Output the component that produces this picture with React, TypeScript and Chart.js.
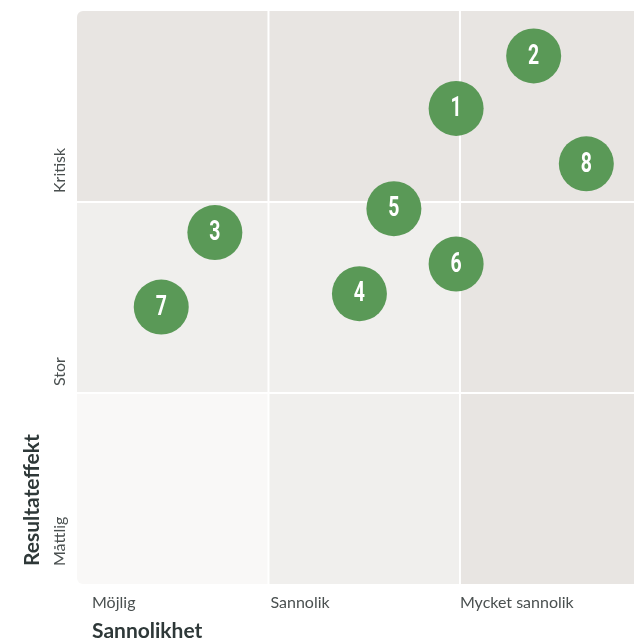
import { useEffect, useRef } from "react";
import { Chart, registerables } from "chart.js";

Chart.register(...registerables);

// Categories
const likelihoodLabels = ["Möjlig", "Sannolik", "Mycket sannolik"];
const impactLabels = ["Måttlig", "Stor", "Kritisk"];
const axisTitleX = "Sannolikhet";
const axisTitleY = "Resultateffekt";

// Risks
const riskIds = ["1", "2", "3", "4", "5", "6", "7", "8"];
const likelihoodValues = [1.98, 2.385, 0.72, 1.475, 1.655, 1.98, 0.44, 2.66];
const impactValues = [2.49, 2.765, 1.84, 1.52, 1.965, 1.675, 1.45, 2.2];

const CELL_LIGHTEST = "#f9f8f7";
const CELL_LIGHT = "#f0efed";
const CELL_DARK = "#e8e5e2";
const cellShade = (row: number, col: number) => {
  if (row === 0 && col === 0) return CELL_LIGHTEST;
  if (col < 2 && row < 2) return CELL_LIGHT;
  return CELL_DARK;
};

const matrixPlugin = {
  id: "matrix",
  beforeDatasetsDraw(chart: any) {
    const { ctx, chartArea } = chart;
    const xs = chart.scales.x;
    const ys = chart.scales.y;
    ctx.save();
    ctx.beginPath();
    const w = chartArea.right - chartArea.left;
    const h = chartArea.bottom - chartArea.top;
    if (ctx.roundRect) ctx.roundRect(chartArea.left, chartArea.top, w, h, [6, 0, 0, 6]);
    else ctx.rect(chartArea.left, chartArea.top, w, h);
    ctx.clip();
    for (let r = 0; r < impactLabels.length; r++) {
      for (let c = 0; c < likelihoodLabels.length; c++) {
        const x0 = xs.getPixelForValue(c);
        const x1 = xs.getPixelForValue(c + 1);
        const y0 = ys.getPixelForValue(r + 1);
        const y1 = ys.getPixelForValue(r);
        ctx.fillStyle = cellShade(r, c);
        ctx.fillRect(x0, y0, x1 - x0, y1 - y0);
      }
    }
    ctx.strokeStyle = "#ffffff";
    ctx.lineWidth = 2;
    for (let i = 1; i < likelihoodLabels.length; i++) {
      const x = xs.getPixelForValue(i);
      ctx.beginPath();
      ctx.moveTo(x, chartArea.top);
      ctx.lineTo(x, chartArea.bottom);
      ctx.stroke();
    }
    for (let i = 1; i < impactLabels.length; i++) {
      const y = ys.getPixelForValue(i);
      ctx.beginPath();
      ctx.moveTo(chartArea.left, y);
      ctx.lineTo(chartArea.right, y);
      ctx.stroke();
    }
    ctx.restore();
  },
  afterDatasetsDraw(chart: any) {
    const { ctx } = chart;
    const meta = chart.getDatasetMeta(0);
    ctx.save();
    ctx.fillStyle = "#ffffff";
    ctx.font = "bold 27px Roboto, sans-serif";
    ctx.textAlign = "center";
    ctx.textBaseline = "middle";
    meta.data.forEach((el: any, i: number) => {
      ctx.save();
      ctx.translate(el.x, el.y + 1);
      ctx.scale(0.72, 1);
      ctx.fillText(riskIds[i], 0, 0);
      ctx.restore();
    });
    ctx.restore();
  },
  afterDraw(chart: any) {
    const { ctx, chartArea } = chart;
    const xs = chart.scales.x;
    const ys = chart.scales.y;
    ctx.save();
    // x category labels
    ctx.fillStyle = "#4a5050";
    ctx.font = "16px Lato, sans-serif";
    ctx.textBaseline = "middle";
    ctx.textAlign = "left";
    const xOffsets = [15, 2, 0];
    likelihoodLabels.forEach((lab, i) => {
      ctx.fillText(lab, xs.getPixelForValue(i) + xOffsets[i], chartArea.bottom + 19);
    });
    // y category labels (rotated)
    const yOffsets = [18, 7, 9];
    impactLabels.forEach((lab, i) => {
      ctx.save();
      ctx.translate(chartArea.left - 17, ys.getPixelForValue(i) - yOffsets[i]);
      ctx.rotate(-Math.PI / 2);
      ctx.textAlign = "left";
      ctx.textBaseline = "middle";
      ctx.fillText(lab, 0, 0);
      ctx.restore();
    });
    // titles
    ctx.fillStyle = "#2e3838";
    ctx.font = "bold 21px Lato, sans-serif";
    ctx.textAlign = "left";
    ctx.textBaseline = "middle";
    ctx.fillText(axisTitleX, chartArea.left + 15, chartArea.bottom + 47);
    ctx.save();
    ctx.translate(chartArea.left - 45, ys.getPixelForValue(0) - 18);
    ctx.rotate(-Math.PI / 2);
    ctx.fillText(axisTitleY, 0, 0);
    ctx.restore();
    ctx.restore();
  },
};

export default function App() {
  const canvasRef = useRef<HTMLCanvasElement | null>(null);

  useEffect(() => {
    document.body.style.margin = "0";
    const canvas = canvasRef.current;
    if (!canvas) return;
    const chart = new Chart(canvas, {
      type: "scatter",
      data: {
        datasets: [
          {
            data: likelihoodValues.map((x, i) => ({ x, y: impactValues[i] })),
            backgroundColor: "#5a9957",
            borderWidth: 0,
            pointRadius: 27.5,
            pointHoverRadius: 27.5,
          },
        ],
      },
      options: {
        animation: false,
        responsive: false,
        events: [],
        layout: { autoPadding: false, padding: { left: 77, top: 11, right: 0, bottom: 57 } },
        plugins: { legend: { display: false }, tooltip: { enabled: false } },
        scales: {
          x: { type: "linear", min: 0, max: 2.909, display: false },
          y: { type: "linear", min: 0, max: 3, display: false },
        },
        clip: false as any,
      },
      plugins: [matrixPlugin],
    });
    return () => chart.destroy();
  }, []);

  return (
    <div style={{ width: 634, height: 641 }}>
      <canvas ref={canvasRef} width={634} height={641} style={{ display: "block" }} />
    </div>
  );
}
